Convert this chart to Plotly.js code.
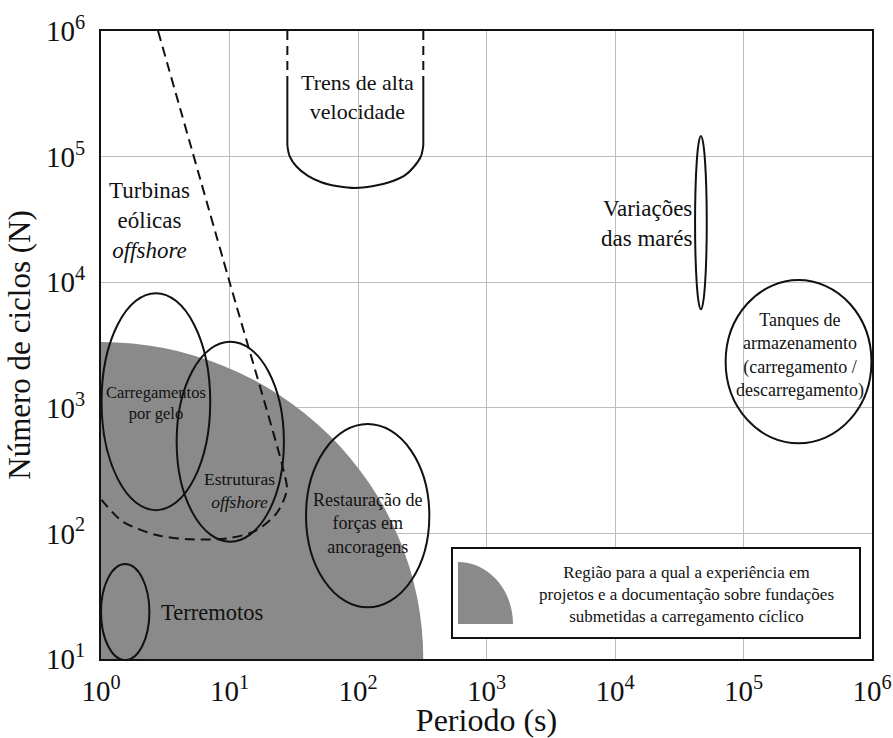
<!DOCTYPE html>
<html><head><meta charset="utf-8">
<script src="https://cdn.plot.ly/plotly-3.0.1.min.js"></script>
<style>html,body{margin:0;padding:0;background:#fff}</style>
</head><body><div id="chart" style="width:893px;height:738px"></div>
<script>
// ---- axes ----
const xTickVals = [1, 10, 100, 1000, 10000, 100000, 1000000];
const xTickText = ['10<sup>0</sup>','10<sup>1</sup>','10<sup>2</sup>','10<sup>3</sup>','10<sup>4</sup>','10<sup>5</sup>','10<sup>6</sup>'];
const yTickVals = [10, 100, 1000, 10000, 100000, 1000000];
const yTickText = ['10<sup>1</sup>','10<sup>2</sup>','10<sup>3</sup>','10<sup>4</sup>','10<sup>5</sup>','10<sup>6</sup>'];

// ---- experience region (quarter ellipse around 1 s / 10 cycles) ----
const regionX = [0.0031, 322];
const regionY = [0.030, 3340];

// ---- application ellipses (period range, cycles range) ----
const ellipseNames = ['Carregamentos por gelo','Estruturas offshore','Restauração de forças em ancoragens','Terremotos','Variações das marés','Tanques de armazenamento'];
const ellipseX0 = [1.01, 3.88, 39.4, 1.0, 41980, 72600];
const ellipseX1 = [7.08, 26.5, 359, 2.38, 51760, 990000];
const ellipseY0 = [153, 85.9, 25.8, 9.8, 6080, 521];
const ellipseY1 = [8170, 3360, 743, 57, 146000, 10400];

// ---- offshore wind turbines (dashed boundary) ----
const turbineX = [2.78, 9.91, 25.9, 28.0, 27.0, 23.3, 16.3, 10.1, 4.93, 2.71, 1.48, 1.01];
const turbineY = [1e6, 10420, 340, 230, 195, 145, 106, 91.9, 89.7, 97, 124, 185];

// ---- high-speed trains (U shape) ----
const trainDashY = [1e6, 4.07e5];
const trainSideY = [4.07e5, 1.237e5];
const trainLeftX = [28.2, 28.2];
const trainRightX = [322.3, 322.3];
const trainCurveX = [28.2, 29.36, 33.2, 40.5, 51.8, 70.0, 95.3, 129.0, 175.2, 230.0, 273.8, 309.3, 322.3];
const trainCurveY = [1.237e5, 1.009e5, 8.34e4, 7.05e4, 6.25e4, 5.80e4, 5.62e4, 5.80e4, 6.25e4, 7.05e4, 8.34e4, 1.009e5, 1.237e5];

// ---- layout helpers ----
const L = 101, R = 872, T = 31, B = 659;
function px(x){ return (x - L) / (R - L); }
function py(y){ return (B - y) / (B - T); }
const SERIF = 'Liberation Serif';
const INK = '#111111';

function line(x, y, opts){
  return Object.assign({x: x, y: y, mode: 'lines', hoverinfo: 'skip', showlegend: false}, opts);
}
const traces = [
  line(turbineX, turbineY, {line: {color: INK, width: 2, dash: '10px,6px', shape: 'spline', smoothing: 0.8}}),
  line(trainLeftX, trainDashY, {line: {color: INK, width: 2, dash: '9px,6px'}}),
  line(trainRightX, trainDashY, {line: {color: INK, width: 2, dash: '9px,6px'}}),
  line(trainLeftX, trainSideY, {line: {color: INK, width: 2}}),
  line(trainRightX, trainSideY, {line: {color: INK, width: 2}}),
  line(trainCurveX, trainCurveY, {line: {color: INK, width: 2, shape: 'spline', smoothing: 1}})
];

const shapes = [
  {type: 'circle', xref: 'x', yref: 'y', x0: regionX[0], x1: regionX[1], y0: regionY[0], y1: regionY[1],
   fillcolor: '#8a8a8a', line: {width: 0}, layer: 'between'}
];
ellipseNames.forEach((n, i) => {
  shapes.push({type: 'circle', xref: 'x', yref: 'y', x0: ellipseX0[i], x1: ellipseX1[i], y0: ellipseY0[i], y1: ellipseY1[i],
    line: {color: INK, width: 2}, fillcolor: 'rgba(0,0,0,0)', layer: 'above'});
});
// legend box
shapes.push({type: 'rect', xref: 'paper', yref: 'paper', x0: px(452), x1: px(860), y0: py(638), y1: py(548),
  fillcolor: '#ffffff', line: {color: INK, width: 2}, layer: 'above'});
// legend icon (quarter ellipse)
(function(){
  const x0 = px(458), x1 = px(513), y0 = py(624), y1 = py(562), k = 0.5523;
  const cx = x0 + k * (x1 - x0), cy = y0 + k * (y1 - y0);
  shapes.push({type: 'path', xref: 'paper', yref: 'paper',
    path: `M ${x0} ${y0} L ${x1} ${y0} C ${x1} ${cy} ${cx} ${y1} ${x0} ${y1} Z`,
    fillcolor: '#8a8a8a', line: {width: 0}, layer: 'above'});
})();

function ann(text, x, y, size, opts){
  return Object.assign({text: text, xref: 'paper', yref: 'paper', x: px(x), y: py(y), xanchor: 'center', yanchor: 'middle',
    showarrow: false, align: 'center', font: {family: SERIF, size: size, color: INK}}, opts || {});
}
const annotations = [
  ann('Turbinas<br>eólicas<br><i>offshore</i>', 149, 220, 23),
  ann('Trens de alta<br>velocidade', 357, 97, 22),
  ann('Variações<br>das marés', 694, 223, 23, {xanchor: 'right', align: 'right'}),
  ann('Tanques de<br>armazenamento<br>(carregamento /<br>descarregamento)', 800, 356, 18),
  ann('Carregamentos<br>por gelo', 156, 403, 16.5),
  ann('Estruturas<br><i>offshore</i>', 239, 490, 17.5),
  ann('Restauração de<br>forças em<br>ancoragens', 367, 523, 18),
  ann('Terremotos', 212, 612, 22.5),
  ann('Região para a qual a experiência em<br>projetos e a documentação sobre fundações<br>submetidas a carregamento cíclico', 686, 594, 17)
];

const layout = {
  width: 893, height: 738,
  margin: {l: L, r: 893 - R, t: T, b: 738 - B},
  paper_bgcolor: '#ffffff', plot_bgcolor: '#ffffff',
  showlegend: false,
  font: {family: SERIF, color: INK},
  xaxis: {type: 'log', range: [0, 6], tickvals: xTickVals, ticktext: xTickText, ticks: '',
    tickfont: {family: SERIF, size: 29, color: INK}, ticklabelstandoff: 5,
    showgrid: true, gridcolor: '#bdbdbd', gridwidth: 1, zeroline: false,
    showline: true, mirror: true, linecolor: INK, linewidth: 2,
    title: {text: 'Periodo (s)', font: {family: SERIF, size: 32, color: INK}, standoff: 6}, automargin: false},
  yaxis: {type: 'log', range: [1, 6], tickvals: yTickVals, ticktext: yTickText, ticks: '',
    tickfont: {family: SERIF, size: 29, color: INK}, ticklabelstandoff: 8,
    showgrid: true, gridcolor: '#bdbdbd', gridwidth: 1, zeroline: false,
    showline: true, mirror: true, linecolor: INK, linewidth: 2,
    title: {text: 'Número de ciclos (N)', font: {family: SERIF, size: 31, color: INK}, standoff: 6}, automargin: false},
  shapes: shapes,
  annotations: annotations
};

Plotly.newPlot('chart', traces, layout, {displayModeBar: false, staticPlot: true});
</script></body></html>
